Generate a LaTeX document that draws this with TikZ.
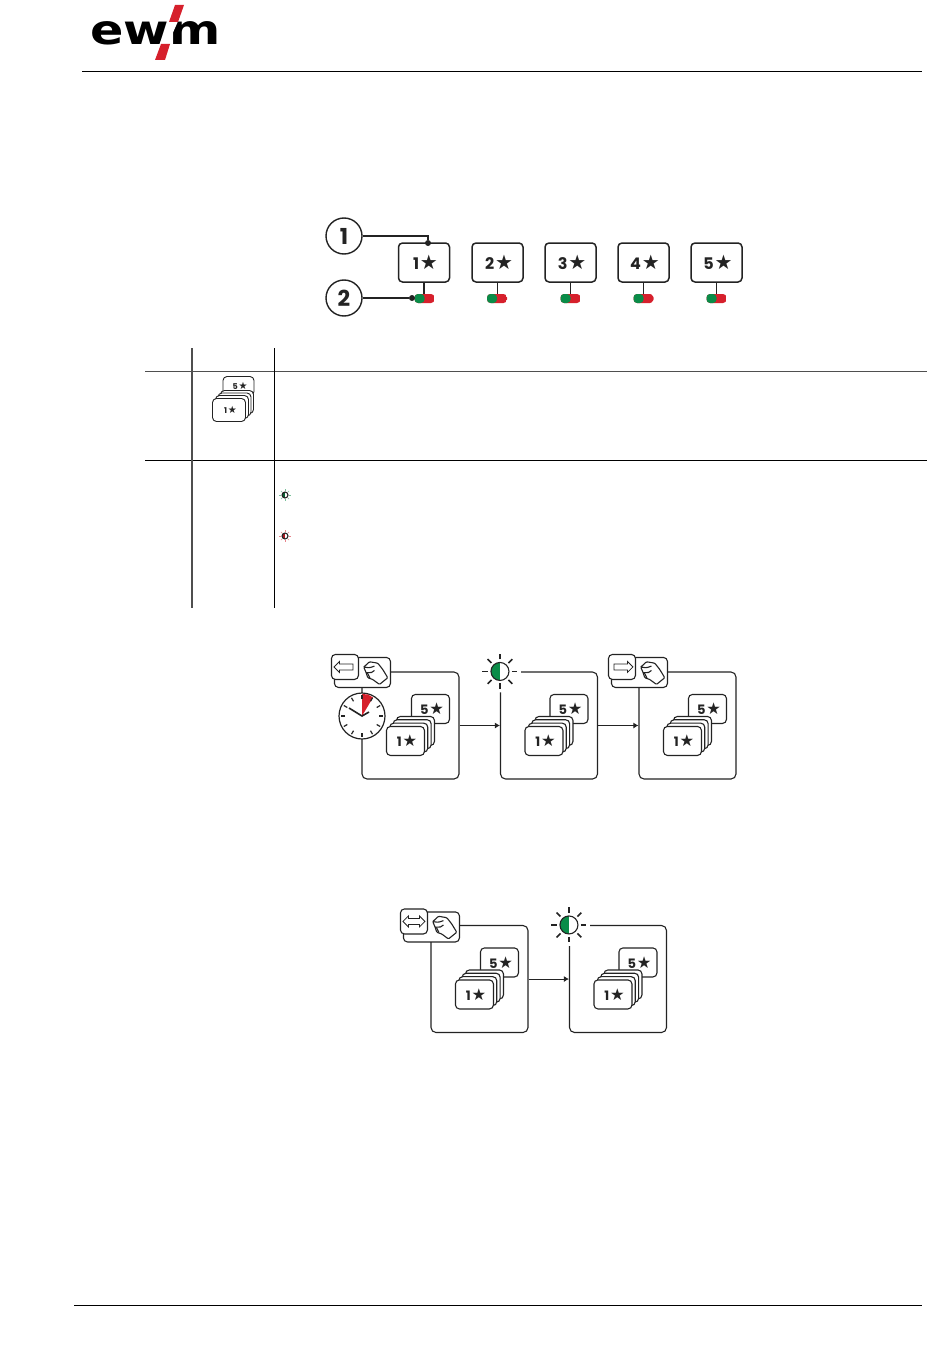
\documentclass[tikz,border=0pt]{standalone}
\usepackage{fontspec}
\setmainfont{Poppins}
\newfontfamily\starfont[Scale=1.25]{DejaVu Sans}
\newfontfamily\logofont{DejaVu Sans}
\usetikzlibrary{arrows.meta,shapes.arrows}
\definecolor{ewmred}{RGB}{214,32,44}
\definecolor{ledgreen}{RGB}{10,140,72}
\definecolor{ink}{RGB}{35,35,35}
\newcommand{\starlabel}[1]{{\kern3pt\bfseries #1\kern0.8pt{\starfont ★}}}
\newcommand{\sz}[1]{\fontsize{#1}{#1}\selectfont}
\tikzset{
  flowarrow/.style={-{Latex[length=5pt,width=6pt]}, line width=1pt, ink},
  panel/.style={draw=ink, rounded corners=5pt, line width=1.1pt, minimum width=97pt, minimum height=107pt, inner sep=0pt},
  starkey/.style={draw=ink, fill=white, rounded corners=4pt, line width=1.5pt, minimum width=51pt, minimum height=39pt, inner sep=0pt, font=\sz{16}, text=ink},
  card/.style={draw=ink, fill=white, rounded corners=4pt, line width=1.1pt, minimum width=38pt, minimum height=29pt, inner sep=0pt, font=\sz{13}, text=ink},
  smallcard/.style={draw=ink, fill=white, rounded corners=4pt, line width=0.9pt, minimum width=33pt, minimum height=23pt, inner sep=0pt, font=\sz{8}, text=ink},
  callout/.style={circle, draw=ink, line width=1.4pt, minimum size=36pt, inner sep=0pt, font=\sz{22}\bfseries, text=ink},
  blackdot/.style={circle, fill=ink, minimum size=6pt, inner sep=0pt},
  pill/.style={rounded corners=3.5pt, minimum width=20pt, minimum height=9pt, inner sep=0pt,
    path picture={\fill[ewmred] (path picture bounding box.south east) rectangle (path picture bounding box.north west);
      \fill[ledgreen] (path picture bounding box.south west) rectangle (path picture bounding box.north);}},
  keycap/.style={draw=ink, fill=white, rounded corners=4pt, line width=1.1pt, inner sep=0pt},
  glyph/.style={draw=ink, line width=0.8pt, inner sep=2.5pt, minimum height=19pt, minimum width=11pt},
  arrowleft/.style={glyph, single arrow, single arrow head extend=2.5pt, shape border rotate=180},
  arrowright/.style={glyph, single arrow, single arrow head extend=2.5pt},
  arrowboth/.style={glyph, double arrow, double arrow head extend=2.5pt, minimum height=22pt},
  ledray/.style={draw=ink},
  pics/cardstack/.style={code={
    \node[card] (-five) at (69,37.5) {\starlabel{5}};
    \foreach \n/\o in {3/10,2/6.7,1/3.3}
      \node[card] (-back\n) at (44+\o,69.5-\o) {};
    \node[card] (-one) at (44,69.5) {\starlabel{1}};
  }},
  pics/handkey/.style={code={
    \node[keycap, minimum width=56pt, minimum height=30pt] (-box) at (1,1) {};
    \node[keycap, minimum width=27pt, minimum height=25pt] (-cap) at (-16.5,-4.5) {};
    \node[#1] (-glyph) at (-16.5,-4.5) {};
    \draw[ink, line width=1.1pt, line join=round, rounded corners=1pt] (2.3,-4.3) -- (8,-9.7) -- (16.3,-8.3) -- (21.3,-2) -- (26.3,6.3) -- (18,13) -- (11.3,8) -- (6.3,6.3) -- (4.7,1.3) -- (2.3,-4.3) -- (8,-3.7) -- (13,-5.3);
    \draw[ink, line width=1.1pt] (4.7,1.3) -- (10,1) -- (13,-1);
    \draw[ink, line width=1.1pt] (6,1.5) -- (8.5,6.5);
  }},
  pics/ledbulb/.style={code={
    \fill[white] (0,0) circle[radius=21];
    \foreach \a in {0,45,...,315}
      \draw[ledray] (\a:12) -- (\a:17.5);
    \node[circle, draw=ink, fill=white, line width=1.1pt, minimum size=18pt, inner sep=0pt,
      path picture={\fill[#1] (path picture bounding box.south west) rectangle (path picture bounding box.north);}] (-lamp) at (0,0) {};
  }},
}
\begin{document}
\begin{tikzpicture}[x=1pt, y=-1pt]
  \useasboundingbox (0,0) rectangle (950,1359);
  % logo
  \node[inner sep=0pt, xscale=1.2, font=\logofont\sz{41}\bfseries, text=black] (logo) at (155.5,33) {ewm};
  \fill[white] (170.5,18) -- (179.5,18) -- (166,48) -- (158,48) -- cycle;
  \fill[ewmred] (175,5) -- (184,5) -- (178,22) -- (169,22) -- cycle;
  \fill[ewmred] (161,44) -- (170,44) -- (165,60) -- (155,60) -- cycle;
  \draw[black, line width=1pt] (82,71.5) -- (922,71.5);
  \draw[black, line width=1pt] (74,1305) -- (922,1305);
  % table rules
  \draw[ink!80, line width=1pt] (145,371) -- (927,371);
  \draw[black, line width=1pt] (145,460) -- (927,460);
  \draw[ink!80, line width=1.3pt] (192,348) -- (192,608);
  \draw[black, line width=1pt] (274,348) -- (274,608);
  % key row
  \foreach \i/\x/\l in {1/424/424.5,2/497.5/497,3/570.5/570.5,4/643.5/643.5,5/716.5/716.5} {
    \node[starkey] (k\i) at (\x,262.5) {\starlabel{\i}};
    \node[pill] (l\i) at (\l,298.5) {};
    \draw[ink, line width=1.2pt] (k\i) -- (\x,294);
  }
  \node[callout] (c1) at (344,236) {1};
  \node[callout] (c2) at (344,298) {2};
  \node[blackdot] (d1) at (428,243) {};
  \node[blackdot] (d2) at (412,298) {};
  \draw[ink, line width=1.2pt] (c1) -| (d1);
  \draw[ink, line width=1.2pt] (c2) -- (d2);
  % table icons
  \node[smallcard, minimum width=31pt, minimum height=19pt] (t5) at (238.5,386) {\starlabel{5}};
  \foreach \n/\o in {3/8,2/5.5,1/3}
    \node[smallcard] (tb\n) at (229+\o,410-\o) {};
  \node[smallcard] (t1) at (229,410) {\starlabel{1}};
  \pic[scale=0.33, transform shape, line width=0.5pt, ledray/.style={draw=ledgreen!55}] (ledg) at (285,495) {ledbulb=ledgreen!70!black};
  \pic[scale=0.33, transform shape, line width=0.5pt, ledray/.style={draw=ewmred!55}] (ledr) at (285,536) {ledbulb=ewmred!80!black};
  % upper sequence
  \node[panel] (p1) at (410.5,725.5) {};
  \node[panel] (p2) at (549,725.5) {};
  \node[panel] (p3) at (687.5,725.5) {};
  \draw[flowarrow] (p1) -- (p2);
  \draw[flowarrow] (p2) -- (p3);
  \pic (s1) at (p1.north west) {cardstack};
  \pic (s2) at (p2.north west) {cardstack};
  \pic (s3) at (p3.north west) {cardstack};
  \node[circle, draw=ink, fill=white, line width=1.2pt, minimum size=46pt, inner sep=0pt] (clock) at (362,716) {};
  \fill[ewmred] (clock.center) -- ++(0,-22) -- ++(6,0.5) -- ++(5,3) -- cycle;
  \foreach \a in {30,60,...,360}
    \draw[ink, line width=1.2pt] ([shift={(\a:17)}]clock.center) -- ([shift={(\a:21)}]clock.center);
  \draw[ink, line width=1.6pt] (349,708) -- (clock.center) -- (369,712);
  \pic (h1) at (p1.north west) {handkey=arrowleft};
  \pic[line width=1.6pt] (b2) at (p2.north west) {ledbulb=ledgreen};
  \pic (h3) at (p3.north west) {handkey=arrowright};
  % lower sequence
  \node[panel] (p4) at (479.5,979) {};
  \node[panel] (p5) at (618,979) {};
  \draw[flowarrow] (p4) -- (p5);
  \pic (s4) at (p4.north west) {cardstack};
  \pic (s5) at (p5.north west) {cardstack};
  \pic (h4) at ([yshift=-1pt]p4.north west) {handkey=arrowboth};
  \pic[line width=1.6pt] (b5) at (p5.north west) {ledbulb=ledgreen};
\end{tikzpicture}
\end{document}
